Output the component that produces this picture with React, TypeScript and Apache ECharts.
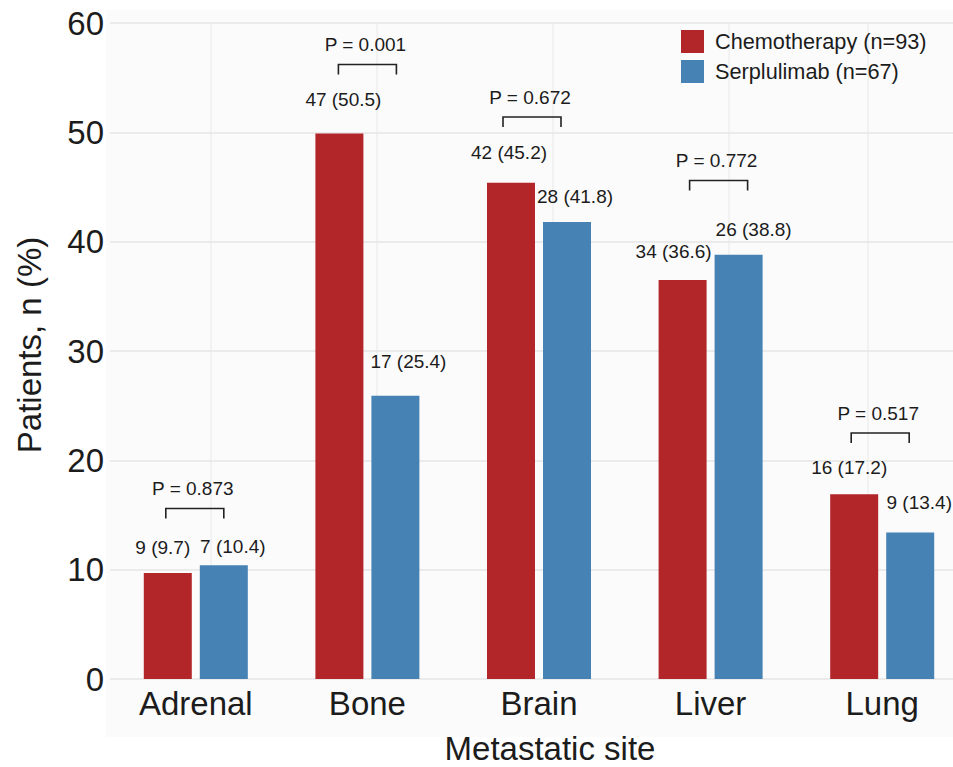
import React, { useEffect, useRef } from "react";
import * as echarts from "echarts";

const categories = ["Adrenal", "Bone", "Brain", "Liver", "Lung"];
const chemoValues = [9.7, 49.9, 45.4, 36.5, 16.9];
const serpValues = [10.4, 25.9, 41.8, 38.8, 13.4];
const chemoLabels = ["9 (9.7)", "47 (50.5)", "42 (45.2)", "34 (36.6)", "16 (17.2)"];
const serpLabels = ["7 (10.4)", "17 (25.4)", "28 (41.8)", "26 (38.8)", "9 (13.4)"];
const pLabels = ["P = 0.873", "P = 0.001", "P = 0.672", "P = 0.772", "P = 0.517"];
const bracketHeights = [15.6, 56.2, 51.4, 45.6, 22.5];
const yTicks = [0, 10, 20, 30, 40, 50, 60];

const FONT = '"Liberation Sans", Arial, Helvetica, sans-serif';
const TEXT = "#1c1c1c";
const RED = "#b2262a";
const BLUE = "#4682b4";

// label placement tweaks (pixels): [dx, dy] from bar top
const chemoOffsets = [[-5, -25], [4, -34], [-2, -30], [-9, -28], [-5, -27]];
const serpOffsets = [[9, -19], [13, -34], [8, -25], [15, -25], [9, -30]];
const bracketDx = [-1, 0, -7, 8, -2];

export default function App() {
  const ref = useRef<HTMLDivElement>(null);
  useEffect(() => {
    if (!ref.current) return;
    const chart = echarts.init(ref.current, null, { renderer: "svg" });
    const labelStyle = (txt: string, off: number[]) => ({
      show: true,
      position: "top",
      distance: 0,
      verticalAlign: "middle",
      align: "center",
      offset: off,
      formatter: () => txt,
      fontSize: 19,
      fontFamily: FONT,
      color: TEXT,
    });
    const option: any = {
      animation: false,
      backgroundColor: "#ffffff",
      textStyle: { fontFamily: FONT },
      grid: { left: 110, right: 7, top: 23, bottom: 88, containLabel: false },
      legend: {
        data: ["Chemotherapy (n=93)", "Serplulimab (n=67)"],
        orient: "vertical",
        left: 676,
        top: 25,
        itemWidth: 23,
        itemHeight: 23,
        itemGap: 7,
        icon: "rect",
        textStyle: { fontSize: 21.7, fontFamily: FONT, color: TEXT, padding: [0, 0, 0, 6] },
      },
      xAxis: {
        type: "category",
        data: categories,
        axisLine: { show: false },
        axisTick: { show: false },
        axisLabel: { fontSize: 33, fontFamily: FONT, color: TEXT, margin: 8 },
      },
      yAxis: {
        type: "value",
        min: 0,
        max: 60,
        interval: 10,
        axisLine: { show: false },
        axisTick: { show: false },
        axisLabel: {
          fontSize: 33,
          fontFamily: FONT,
          color: TEXT,
          margin: 6,
          formatter: (v: number) => (yTicks.includes(v) ? String(v) : ""),
        },
        splitLine: { lineStyle: { color: "#e6e6e6", width: 1.5 } },
      },
      graphic: [
        {
          type: "rect",
          z: -100,
          silent: true,
          shape: { x: 106, y: 10, width: 880, height: 727 },
          style: { fill: "#fbfbfb" },
        },
        ...[211, 377, 553, 729, 868].map((x) => ({
          type: "line",
          z: -50,
          silent: true,
          shape: { x1: x, y1: 23, x2: x, y2: 679 },
          style: { stroke: "#efefef", lineWidth: 1.5 },
        })),
        {
          type: "text",
          x: 29,
          y: 345,
          rotation: Math.PI / 2,
          style: {
            text: "Patients, n (%)",
            fontSize: 33,
            fontFamily: FONT,
            fill: TEXT,
            align: "center",
            verticalAlign: "middle",
          },
        },
        {
          type: "text",
          x: 550,
          y: 748,
          style: {
            text: "Metastatic site",
            fontSize: 33,
            fontFamily: FONT,
            fill: TEXT,
            align: "center",
            verticalAlign: "middle",
          },
        },
      ],
      series: [
        {
          name: "Chemotherapy (n=93)",
          type: "bar",
          barWidth: 48,
          barGap: "16.7%",
          itemStyle: { color: RED },
          data: chemoValues.map((v, i) => ({ value: v, label: labelStyle(chemoLabels[i], chemoOffsets[i]) })),
        },
        {
          name: "Serplulimab (n=67)",
          type: "bar",
          barWidth: 48,
          itemStyle: { color: BLUE },
          data: serpValues.map((v, i) => ({ value: v, label: labelStyle(serpLabels[i], serpOffsets[i]) })),
        },
        {
          type: "custom",
          name: "brackets",
          z: 5,
          encode: { x: 0, y: 1 },
          data: bracketHeights.map((h, i) => [i, h]),
          renderItem: (params: any, api: any) => {
            const i = api.value(0);
            const p = api.coord([i, api.value(1)]);
            const cx = p[0] + bracketDx[i];
            const half = 29;
            const tick = 10;
            return {
              type: "group",
              children: [
                {
                  type: "polyline",
                  shape: {
                    points: [
                      [cx - half, p[1] + tick],
                      [cx - half, p[1]],
                      [cx + half, p[1]],
                      [cx + half, p[1] + tick],
                    ],
                  },
                  style: { stroke: "#222", lineWidth: 1.6, fill: null },
                },
                {
                  type: "text",
                  style: {
                    text: pLabels[i],
                    x: cx - 2,
                    y: p[1] - 20,
                    align: "center",
                    verticalAlign: "middle",
                    fontSize: 19,
                    fontFamily: FONT,
                    fill: TEXT,
                  },
                },
              ],
            };
          },
        },
      ],
    };
    chart.setOption(option);
    return () => chart.dispose();
  }, []);
  return (
    <div
      style={{ position: "absolute", left: 0, top: 0, width: 953, height: 767, overflow: "hidden" }}
    >
      <div ref={ref} style={{ width: 975, height: 767 }} />
    </div>
  );
}
